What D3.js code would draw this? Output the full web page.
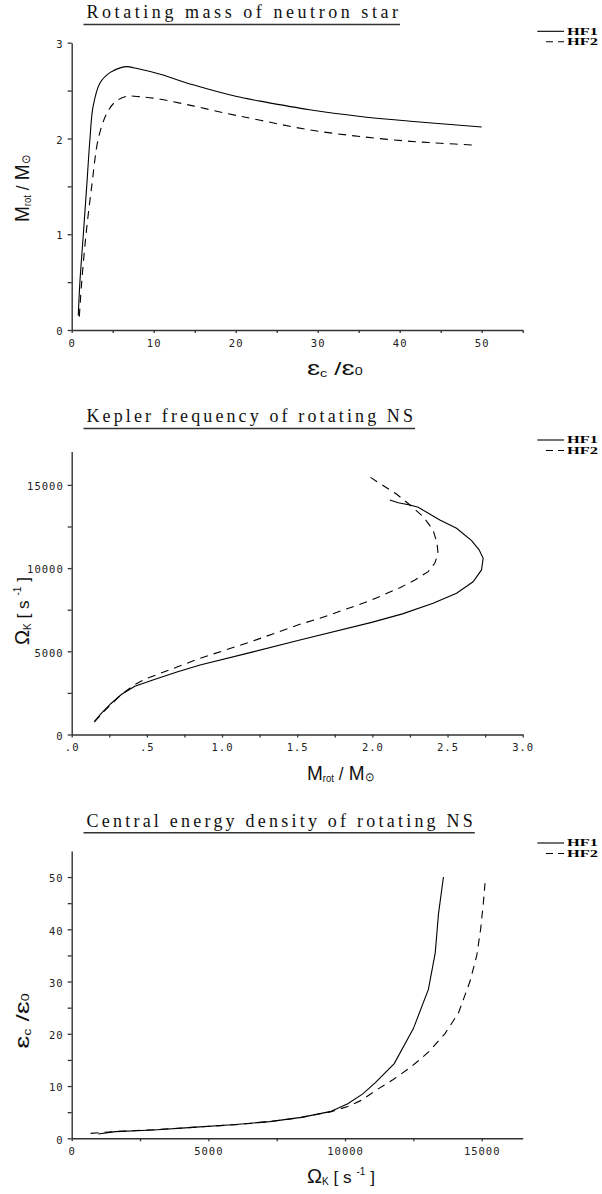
<!DOCTYPE html>
<html><head><meta charset="utf-8">
<script src="https://cdn.jsdelivr.net/npm/d3@7"></script>
<style>body{margin:0;background:#fff} svg{display:block}</style>
</head><body>
<svg id="c" width="602" height="1194"></svg>
<script>
const seriesNames = ["HF1", "HF2"];
const titles = ["Rotating mass of neutron star", "Kepler frequency of rotating NS", "Central energy density of rotating NS"];

// Panel 1: [eps_c/eps_0, M_rot/M_sun]
const massHF1 = [[0.8,0.15],[1.0,0.5],[1.42,1.0],[1.83,1.5],[2.23,2.0],[2.6,2.33],[3.45,2.58],[4.7,2.69],[6.0,2.74],[6.7,2.75],[8,2.73],[10.8,2.67],[14.8,2.56],[20,2.44],[23,2.39],[29,2.30],[35.2,2.23],[41.3,2.18],[50,2.12]];
const massHF2 = [[0.93,0.14],[1.22,0.5],[1.75,1.0],[2.44,1.5],[3.25,2.0],[4.27,2.26],[5.28,2.38],[6.7,2.44],[8.5,2.435],[10.8,2.41],[14.8,2.34],[19,2.26],[23,2.19],[29,2.09],[35.2,2.02],[41.3,1.97],[45,1.95],[49.2,1.93]];

// Panel 2: [M_rot/M_sun, Omega_K]
const keplerHF1 = [[0.15,780],[0.2,1300],[0.26,1850],[0.33,2400],[0.42,2900],[0.54,3275],[0.7,3750],[0.854,4177],[1.2,4950],[1.518,5680],[1.995,6740],[2.2,7250],[2.404,7890],[2.56,8490],[2.67,9180],[2.726,9890],[2.737,10590],[2.71,11100],[2.66,11650],[2.56,12390],[2.449,12890],[2.305,13655],[2.25,13793],[2.172,13931],[2.116,14094]];
const keplerHF2 = [[0.15,750],[0.2,1250],[0.26,1800],[0.33,2400],[0.42,3000],[0.5,3375],[0.7,4050],[0.854,4580],[1.2,5600],[1.518,6623],[1.651,6984],[1.872,7681],[1.995,8083],[2.183,8823],[2.283,9285],[2.371,9784],[2.415,10289],[2.437,10890],[2.43,11491],[2.404,12290],[2.338,13090],[2.25,13793],[2.16,14454],[1.97,15550]];

// Panel 3: [Omega_K, eps_c/eps_0]
const densityHF1 = [[970,0.82],[1600,1.27],[3000,1.6],[4420,2.1],[6000,2.65],[7245,3.2],[8400,4.0],[9450,5.1],[10100,6.6],[10650,8.5],[11100,10.6],[11800,14.3],[12500,21],[13050,28.5],[13300,35.5],[13420,43],[13600,50]];
const densityHF2 = [[690,0.95],[1600,1.3],[3000,1.65],[4420,2.1],[6000,2.6],[7245,3.2],[8400,4.0],[9495,5.1],[10100,6.1],[10610,7.3],[11150,9.25],[11750,11.2],[12450,13.8],[13050,16.5],[13650,20],[14150,24],[14570,30],[14820,35],[14960,40],[15060,45],[15120,48.8]];

// ticks
const massXTicks = [0,5,10,15,20,25,30,35,40,45,50,55];
const massXLabels = ["0","10","20","30","40","50"];
const massYTicks = [0,0.5,1,1.5,2,2.5,3];
const massYLabels = ["0","1","2","3"];
const keplerXTicks = [0,0.25,0.5,0.75,1,1.25,1.5,1.75,2,2.25,2.5,2.75,3];
const keplerXLabelTicks = [0,0.5,1,1.5,2,2.5,3];
const keplerXLabels = [".0",".5","1.0","1.5","2.0","2.5","3.0"];
const keplerYTicks = [0,2500,5000,7500,10000,12500,15000];
const keplerYLabels = ["0","5000","10000","15000"];
const densityXTicks = [0,2500,5000,7500,10000,12500,15000];
const densityXLabels = ["0","5000","10000","15000"];
const densityYTicks = [0,5,10,15,20,25,30,35,40,45,50];
const densityYLabels = ["0","10","20","30","40","50"];

const svg = d3.select("#c");
const X0 = 71.7, X1 = 522.7;
const tickFont = "'DejaVu Sans Mono', monospace";
const labelFont = "'Liberation Sans', Arial, sans-serif";

function labelMap(labels) {
  const m = new Map();
  labels.forEach(l => m.set(+l, l));
  return d => (m.has(d) ? m.get(d) : "");
}

function panel(o) {
  const g = svg.append("g");
  const x = d3.scaleLinear().domain(o.xDomain).range([X0, X1]);
  const y = d3.scaleLinear().domain(o.yDomain).range(o.yRange);

  // title
  g.append("text").attr("x", 86.5).attr("y", o.titleY)
    .attr("font-family", "'Liberation Serif', 'Times New Roman', serif")
    .attr("font-size", 18).attr("fill", "#111")
    .attr("textLength", o.titleLen).attr("lengthAdjust", "spacing")
    .text(o.title);
  g.append("line").attr("x1", 83.5).attr("x2", 86.5 + o.titleLen + 2)
    .attr("y1", o.titleY + 6.2).attr("y2", o.titleY + 6.2)
    .attr("stroke", "#333").attr("stroke-width", 1.5);

  // axes
  const xa = d3.axisBottom(x).tickValues(o.xTicks).tickFormat(o.xFmt)
    .tickSize(3).tickSizeOuter(0).tickPadding(6.2);
  const ya = d3.axisLeft(y).tickValues(o.yTicks).tickFormat(o.yFmt)
    .tickSize(4).tickSizeOuter(0).tickPadding(4);
  const gx = g.append("g").attr("transform", `translate(0,${o.yRange[0]})`).call(xa);
  const gy = g.append("g").attr("transform", `translate(${X0},0)`).call(ya);
  [gx, gy].forEach(a => {
    a.select(".domain").attr("stroke", "#333").attr("stroke-width", 1.4);
    a.selectAll(".tick line").attr("stroke", "#333").attr("stroke-width", 1.3);
    a.selectAll(".tick text").attr("font-family", tickFont).attr("font-size", 10.5)
      .attr("fill", "#222").attr("letter-spacing", "1px");
  });
  gy.selectAll(".tick text").attr("dy", "0.45em");

  // lines
  const line = d3.line().x(d => x(d[0])).y(d => y(d[1])).curve(o.curve);
  g.append("path").datum(o.s1).attr("d", line).attr("fill", "none")
    .attr("stroke", "#000").attr("stroke-width", 1.1);
  g.append("path").datum(o.s2).attr("d", line).attr("fill", "none")
    .attr("stroke", "#000").attr("stroke-width", 1.1).attr("stroke-dasharray", "8,6");

  // legend
  const ly = o.legendY - 2;
  const gap = 10.5;
  g.append("line").attr("x1", 537.3).attr("x2", 564).attr("y1", ly).attr("y2", ly)
    .attr("stroke", "#000").attr("stroke-width", 1.1);
  g.append("line").attr("x1", 546).attr("x2", 564).attr("y1", ly + gap).attr("y2", ly + gap)
    .attr("stroke", "#000").attr("stroke-width", 1.1).attr("stroke-dasharray", "7,5");
  seriesNames.forEach((n, i) => {
    g.append("text").attr("x", 567).attr("y", ly + 3.3 + i * gap)
      .attr("font-family", "'Liberation Serif', serif").attr("font-weight", "bold")
      .attr("font-size", 9.5).attr("textLength", 31).attr("lengthAdjust", "spacingAndGlyphs")
      .attr("fill", "#000").text(n);
  });

  // axis titles
  o.xTitle(g.append("text").attr("x", 307).attr("y", o.yRange[0] + 45)
    .attr("font-family", labelFont).attr("fill", "#111"));
  o.yTitle(g.append("text")
    .attr("transform", `translate(29,${o.yRange[0] - o.yTitleOff}) rotate(-90)`)
    .attr("font-family", labelFont).attr("fill", "#111"));
}

function epsTitle(t, len) {
  t.attr("textLength", len).attr("lengthAdjust", "spacingAndGlyphs");
  t.append("tspan").attr("font-size", 20).text("\u025B");
  t.append("tspan").attr("font-size", 10).attr("dy", 2).text("c");
  t.append("tspan").attr("font-size", 18).attr("dy", -2).text("  /");
  t.append("tspan").attr("font-size", 20).text("\u025B");
  t.append("tspan").attr("font-size", 10).attr("dy", 0).text("0");
}
function massTitle(t, len) {
  t.attr("textLength", len).attr("lengthAdjust", "spacingAndGlyphs");
  t.append("tspan").attr("font-size", 20).text("M");
  t.append("tspan").attr("font-size", 10).attr("dy", 2).text("rot");
  t.append("tspan").attr("font-size", 18).attr("dy", -2).text(" /");
  t.append("tspan").attr("font-size", 20).text(" M");
  t.append("tspan").attr("font-size", 12).attr("dy", 1).text("\u2299");
}
function omegaTitle(t, len) {
  t.attr("textLength", len).attr("lengthAdjust", "spacingAndGlyphs");
  t.append("tspan").attr("font-size", 20).text("\u03A9");
  t.append("tspan").attr("font-size", 10).attr("dy", 2).text("K");
  t.append("tspan").attr("font-size", 17).attr("dy", -2).text(" [ s ");
  t.append("tspan").attr("font-size", 10).attr("dy", -8).text("-1");
  t.append("tspan").attr("font-size", 17).attr("dy", 8).text("  ]");
}

panel({
  title: titles[0], titleY: 18.3, titleLen: 311.5,
  xDomain: [0, 55], yDomain: [0, 3], yRange: [330, 42.7],
  xTicks: massXTicks, yTicks: massYTicks,
  xFmt: labelMap(massXLabels), yFmt: labelMap(massYLabels),
  s1: massHF1, s2: massHF2, curve: d3.curveCatmullRom.alpha(0.5),
  legendY: 33.3, yTitleOff: 108,
  xTitle: t => epsTitle(t, 55.6), yTitle: t => massTitle(t, 67)
});
panel({
  title: titles[1], titleY: 422.3, titleLen: 326.5,
  xDomain: [0, 3], yDomain: [0, 17000], yRange: [734.5, 734.5 - 17000 * 83.2 / 5000],
  xTicks: keplerXTicks, yTicks: keplerYTicks,
  xFmt: d => { const i = keplerXLabelTicks.indexOf(d); return i >= 0 ? keplerXLabels[i] : ""; },
  yFmt: labelMap(keplerYLabels),
  s1: keplerHF1, s2: keplerHF2, curve: d3.curveLinear,
  legendY: 442, yTitleOff: 89.5,
  xTitle: t => massTitle(t, 67), yTitle: t => omegaTitle(t, 68)
});
panel({
  title: titles[2], titleY: 826.5, titleLen: 386.3,
  xDomain: [0, 16500], yDomain: [0, 55], yRange: [1138.3, 1138.3 - 55 * 5.225],
  xTicks: densityXTicks, yTicks: densityYTicks,
  xFmt: labelMap(densityXLabels), yFmt: labelMap(densityYLabels),
  s1: densityHF1, s2: densityHF2, curve: d3.curveLinear,
  legendY: 845, yTitleOff: 89.5,
  xTitle: t => omegaTitle(t, 68), yTitle: t => epsTitle(t, 55.6)
});
</script>
</body></html>
